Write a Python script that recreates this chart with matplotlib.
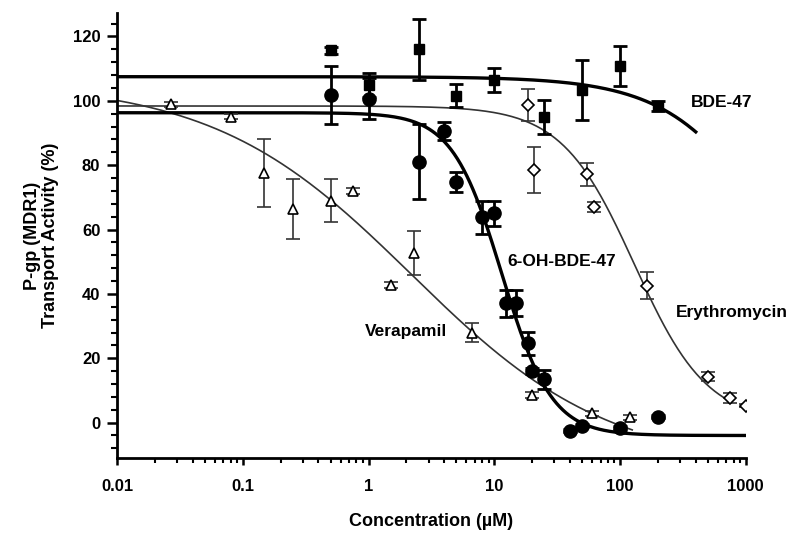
import numpy as np
import matplotlib
matplotlib.use("Agg")
import matplotlib.pyplot as plt
from matplotlib.ticker import FixedLocator, NullFormatter, FuncFormatter

plt.rcParams['font.family'] = ['Liberation Sans', 'DejaVu Sans']
plt.rcParams['font.weight'] = 'bold'

# --- data ---
# BDE-47 (filled squares)
bde_x = [0.5, 1, 2.5, 5, 10, 25, 50, 100, 200]
bde_y = [115.7, 104.9, 116.0, 101.6, 106.4, 95.0, 103.3, 110.8, 98.4]
bde_e = [1.0, 3.6, 9.4, 3.5, 3.8, 5.2, 9.4, 6.3, 1.5]

# 6-OH-BDE-47 (filled circles)
oh_x = [0.5, 1, 2.5, 4, 5, 8, 10, 12.5, 15, 18.7, 20, 25, 40, 50, 100, 200]
oh_y = [101.7, 100.7, 81.1, 90.6, 74.8, 63.8, 65.0, 37.1, 37.1, 24.7, 16.1, 13.5, -2.5, -0.9, -1.7, 1.9]
oh_e = [9.0, 6.4, 11.6, 2.8, 3.2, 5.2, 4.0, 4.2, 4.0, 3.6, 1.0, 3.0, 0.5, 0.5, 0.5, 0.5]

# Verapamil (open triangles)
ver_x = [0.027, 0.08, 0.147, 0.25, 0.5, 0.75, 1.5, 2.3, 6.65, 20, 60, 120]
ver_y = [98.9, 95.0, 77.6, 66.4, 68.9, 72.0, 42.8, 52.8, 28.0, 8.6, 2.9, 1.7]
ver_e = [0.8, 0.8, 10.6, 9.4, 6.7, 1.0, 1.0, 6.9, 3.0, 1.0, 0.8, 0.8]

# Erythromycin (open diamonds)
ery_x = [18.7, 20.8, 55, 62, 165, 500, 750, 1000]
ery_y = [98.7, 78.5, 77.2, 67.1, 42.5, 14.3, 7.6, 5.2]
ery_e = [5.0, 7.0, 3.6, 1.5, 4.2, 1.5, 1.5, 0.5]

# fitted curves: top, bottom, IC50, hill, x range
bde_fit = [107.5, -4.0, 2200.0, 1.0, 0.01, 400]
oh_fit = [96.3, -4.0, 11.5, 2.2, 0.01, 1000]
ver_fit = [106.0, -14.0, 2.2, 0.55, 0.01, 125]
ery_fit = [98.4, 0.0, 130.0, 1.5, 0.01, 750]

# curve labels: text, x, y
labels = [('BDE-47', 366, 99.4), ('6-OH-BDE-47', 12.7, 50.2),
          ('Erythromycin', 278, 34.1), ('Verapamil', 0.93, 28.3)]


def hill(p):
    top, bottom, ic50, h, x0, x1 = p
    x = np.logspace(np.log10(x0), np.log10(x1), 400)
    return x, bottom + (top - bottom) / (1 + (x / ic50) ** h)


fig = plt.figure(figsize=(8, 5.41), dpi=100)
ax = fig.add_axes([0.14625, 0.1534, 0.786, 0.8226])

thin = '#333333'
# curves
for p, lw, c in [(ver_fit, 1.2, thin), (ery_fit, 1.2, thin),
                 (bde_fit, 2.4, 'black'), (oh_fit, 2.4, 'black')]:
    x, y = hill(p)
    ax.plot(x, y, color=c, lw=lw, zorder=2)

# points
ax.errorbar(ver_x, ver_y, yerr=ver_e, fmt='^', ms=7, mfc='white', mec='black',
            mew=1.2, ecolor=thin, elinewidth=1.2, capsize=5, capthick=1.2, zorder=3)
ax.errorbar(ery_x, ery_y, yerr=ery_e, fmt='D', ms=6.5, mfc='white', mec='black',
            mew=1.2, ecolor=thin, elinewidth=1.2, capsize=5, capthick=1.2, zorder=3)
ax.errorbar(bde_x, bde_y, yerr=bde_e, fmt='s', ms=7, color='black',
            elinewidth=2, capsize=5, capthick=2, zorder=4)
ax.errorbar(oh_x, oh_y, yerr=oh_e, fmt='o', ms=9.5, color='black',
            elinewidth=2, capsize=5, capthick=2, zorder=4)

for txt, lx, ly in labels:
    ax.text(lx, ly, txt, va='center', ha='left', fontsize=12.5, fontweight='bold')

ax.set_xscale('log')
ax.set_xlim(0.01, 1000)
ax.set_ylim(-11, 127.3)

ax.xaxis.set_major_locator(FixedLocator([0.01, 0.1, 1, 10, 100, 1000]))
ax.xaxis.set_major_formatter(FuncFormatter(lambda v, pos: '%g' % v))
minors = [m * 10.0 ** d for d in range(-2, 3) for m in range(2, 10)]
ax.xaxis.set_minor_locator(FixedLocator(minors))
ax.xaxis.set_minor_formatter(NullFormatter())
ax.set_yticks(np.arange(0, 121, 20))
ax.set_yticks(np.arange(-8, 127, 4), minor=True)

for s in ['top', 'right']:
    ax.spines[s].set_visible(False)
for s in ['left', 'bottom']:
    ax.spines[s].set_linewidth(2)

ax.tick_params(axis='both', which='major', labelsize=12, width=1.8, direction='out')
ax.tick_params(axis='y', which='major', length=7, pad=5)
ax.tick_params(axis='y', which='minor', length=4, width=1.5)
ax.tick_params(axis='x', which='major', length=5, pad=10)
ax.tick_params(axis='x', which='minor', length=3.5, width=1.5)
for t in ax.get_xticklabels() + ax.get_yticklabels():
    t.set_fontweight('bold')

ax.set_xlabel('Concentration (\u00b5M)', fontsize=13, fontweight='bold', labelpad=14)
ax.set_ylabel('P-gp (MDR1)\nTransport Activity (%)', fontsize=13,
              fontweight='bold', labelpad=10, linespacing=1.1)

fig.savefig('out.png', dpi=100)
